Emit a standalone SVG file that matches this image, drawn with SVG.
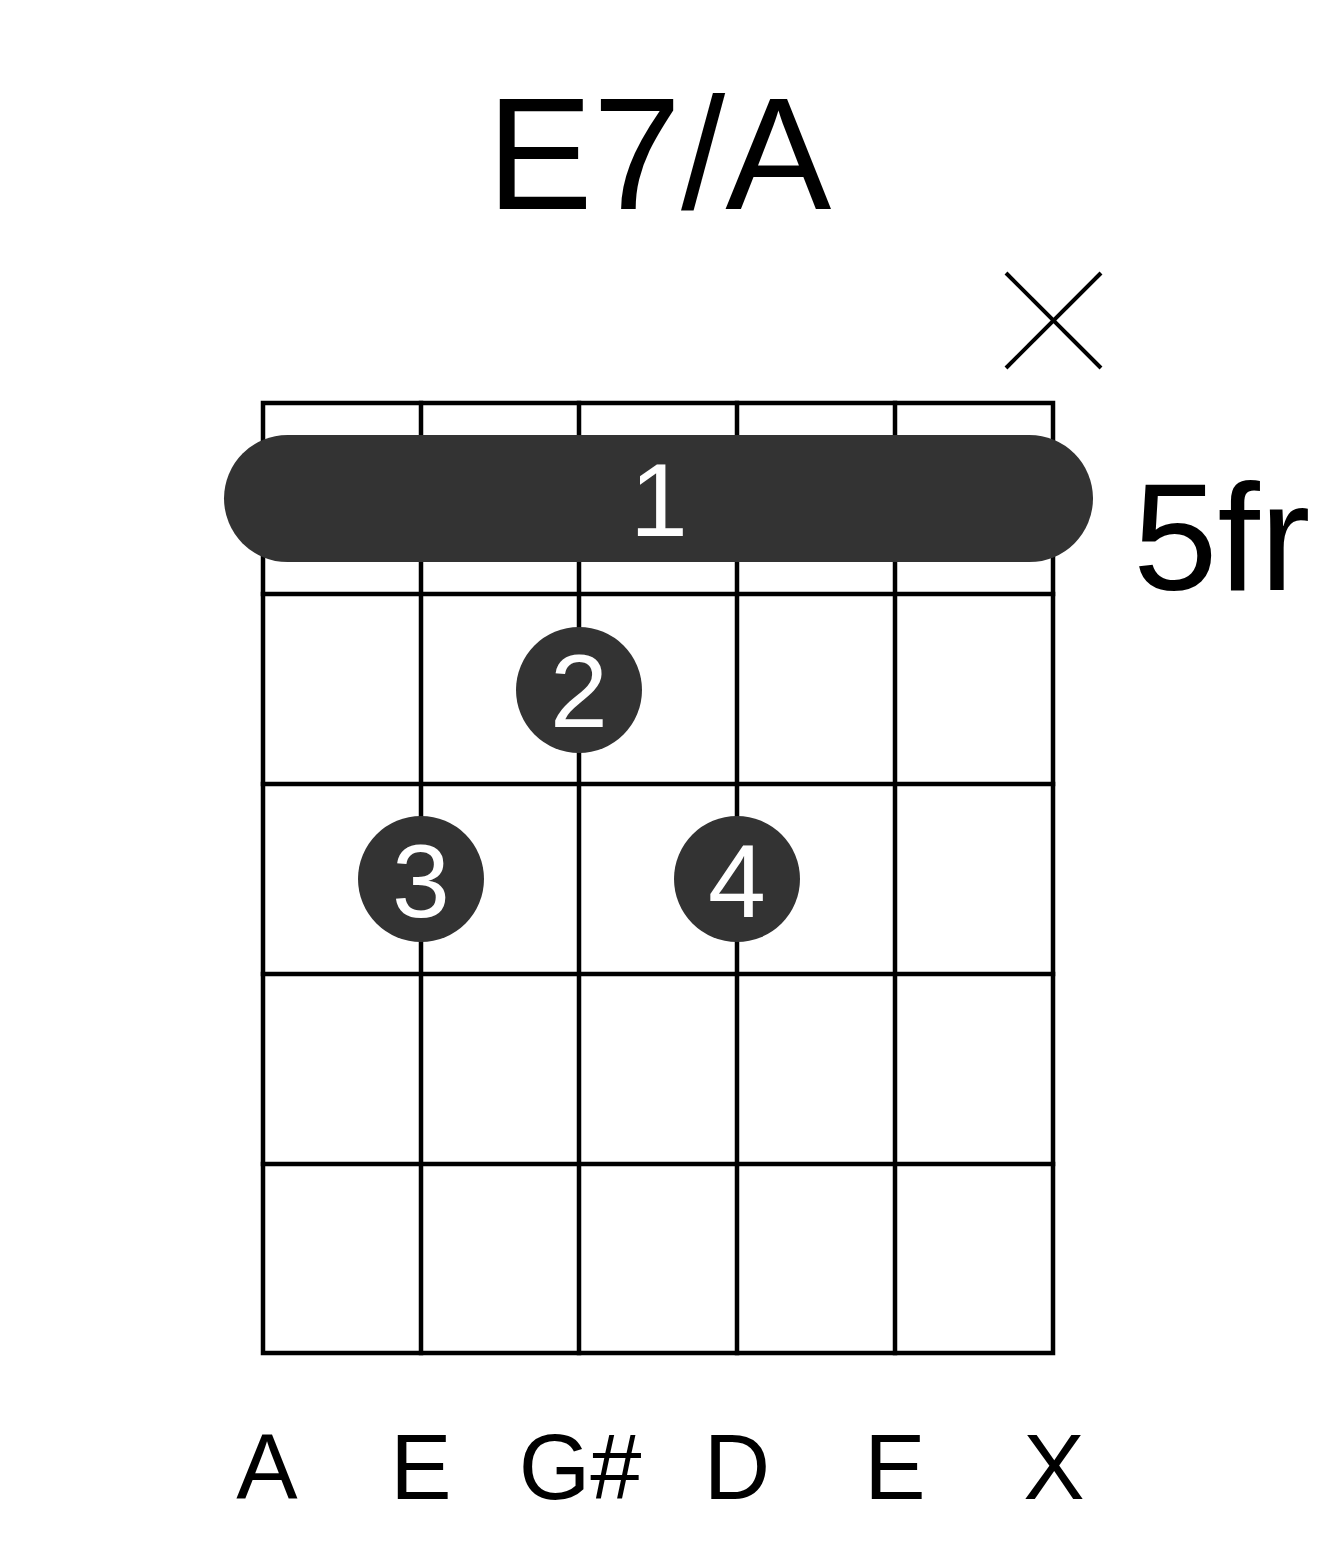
<svg xmlns="http://www.w3.org/2000/svg" width="1317" height="1551" viewBox="0 0 1317 1551">
<style>
text{font-family:"Liberation Sans",Arial,sans-serif;}
.grid{stroke:#000;stroke-width:4.5;fill:none;stroke-linecap:square;}
.dot{fill:#333;}
.fn{fill:#fff;text-anchor:middle;font-size:104px;}
.lbl{fill:#000;text-anchor:middle;font-size:92px;}
</style>
<rect width="1317" height="1551" fill="#fff"/>
<text id="title" x="659" y="209" font-size="159" text-anchor="middle" fill="#000">E7/A</text>
<g id="grid" class="grid">
<rect x="263" y="403" width="790" height="950"/>
<line x1="421" y1="403" x2="421" y2="1353"/>
<line x1="579" y1="403" x2="579" y2="1353"/>
<line x1="737" y1="403" x2="737" y2="1353"/>
<line x1="895" y1="403" x2="895" y2="1353"/>
<line x1="263" y1="594" x2="1053" y2="594"/>
<line x1="263" y1="784" x2="1053" y2="784"/>
<line x1="263" y1="974" x2="1053" y2="974"/>
<line x1="263" y1="1164" x2="1053" y2="1164"/>
</g>
<g id="mute">
<line x1="1006" y1="273" x2="1101" y2="368" stroke="#000" stroke-width="4"/>
<line x1="1101" y1="273" x2="1006" y2="368" stroke="#000" stroke-width="4"/>
</g>
<g id="barre">
<rect class="dot" x="224" y="435" width="869" height="127" rx="63.5" ry="63.5"/>
<text class="fn" x="659" y="536">1</text>
</g>
<g id="finger2">
<circle class="dot" cx="579" cy="690" r="63"/>
<text class="fn" x="579" y="727">2</text>
</g>
<g id="finger3">
<circle class="dot" cx="421" cy="879" r="63"/>
<text class="fn" x="421" y="917">3</text>
</g>
<g id="finger4">
<circle class="dot" cx="737" cy="879" r="63"/>
<text class="fn" x="737" y="917">4</text>
</g>
<text id="fret" x="1133" y="590" font-size="152" fill="#000">5fr</text>
<g id="labels">
<text class="lbl" x="267" y="1499">A</text>
<text class="lbl" x="421" y="1499">E</text>
<text class="lbl" x="580" y="1499">G#</text>
<text class="lbl" x="737" y="1499">D</text>
<text class="lbl" x="895" y="1499">E</text>
<text class="lbl" x="1054" y="1499">X</text>
</g>
</svg>
